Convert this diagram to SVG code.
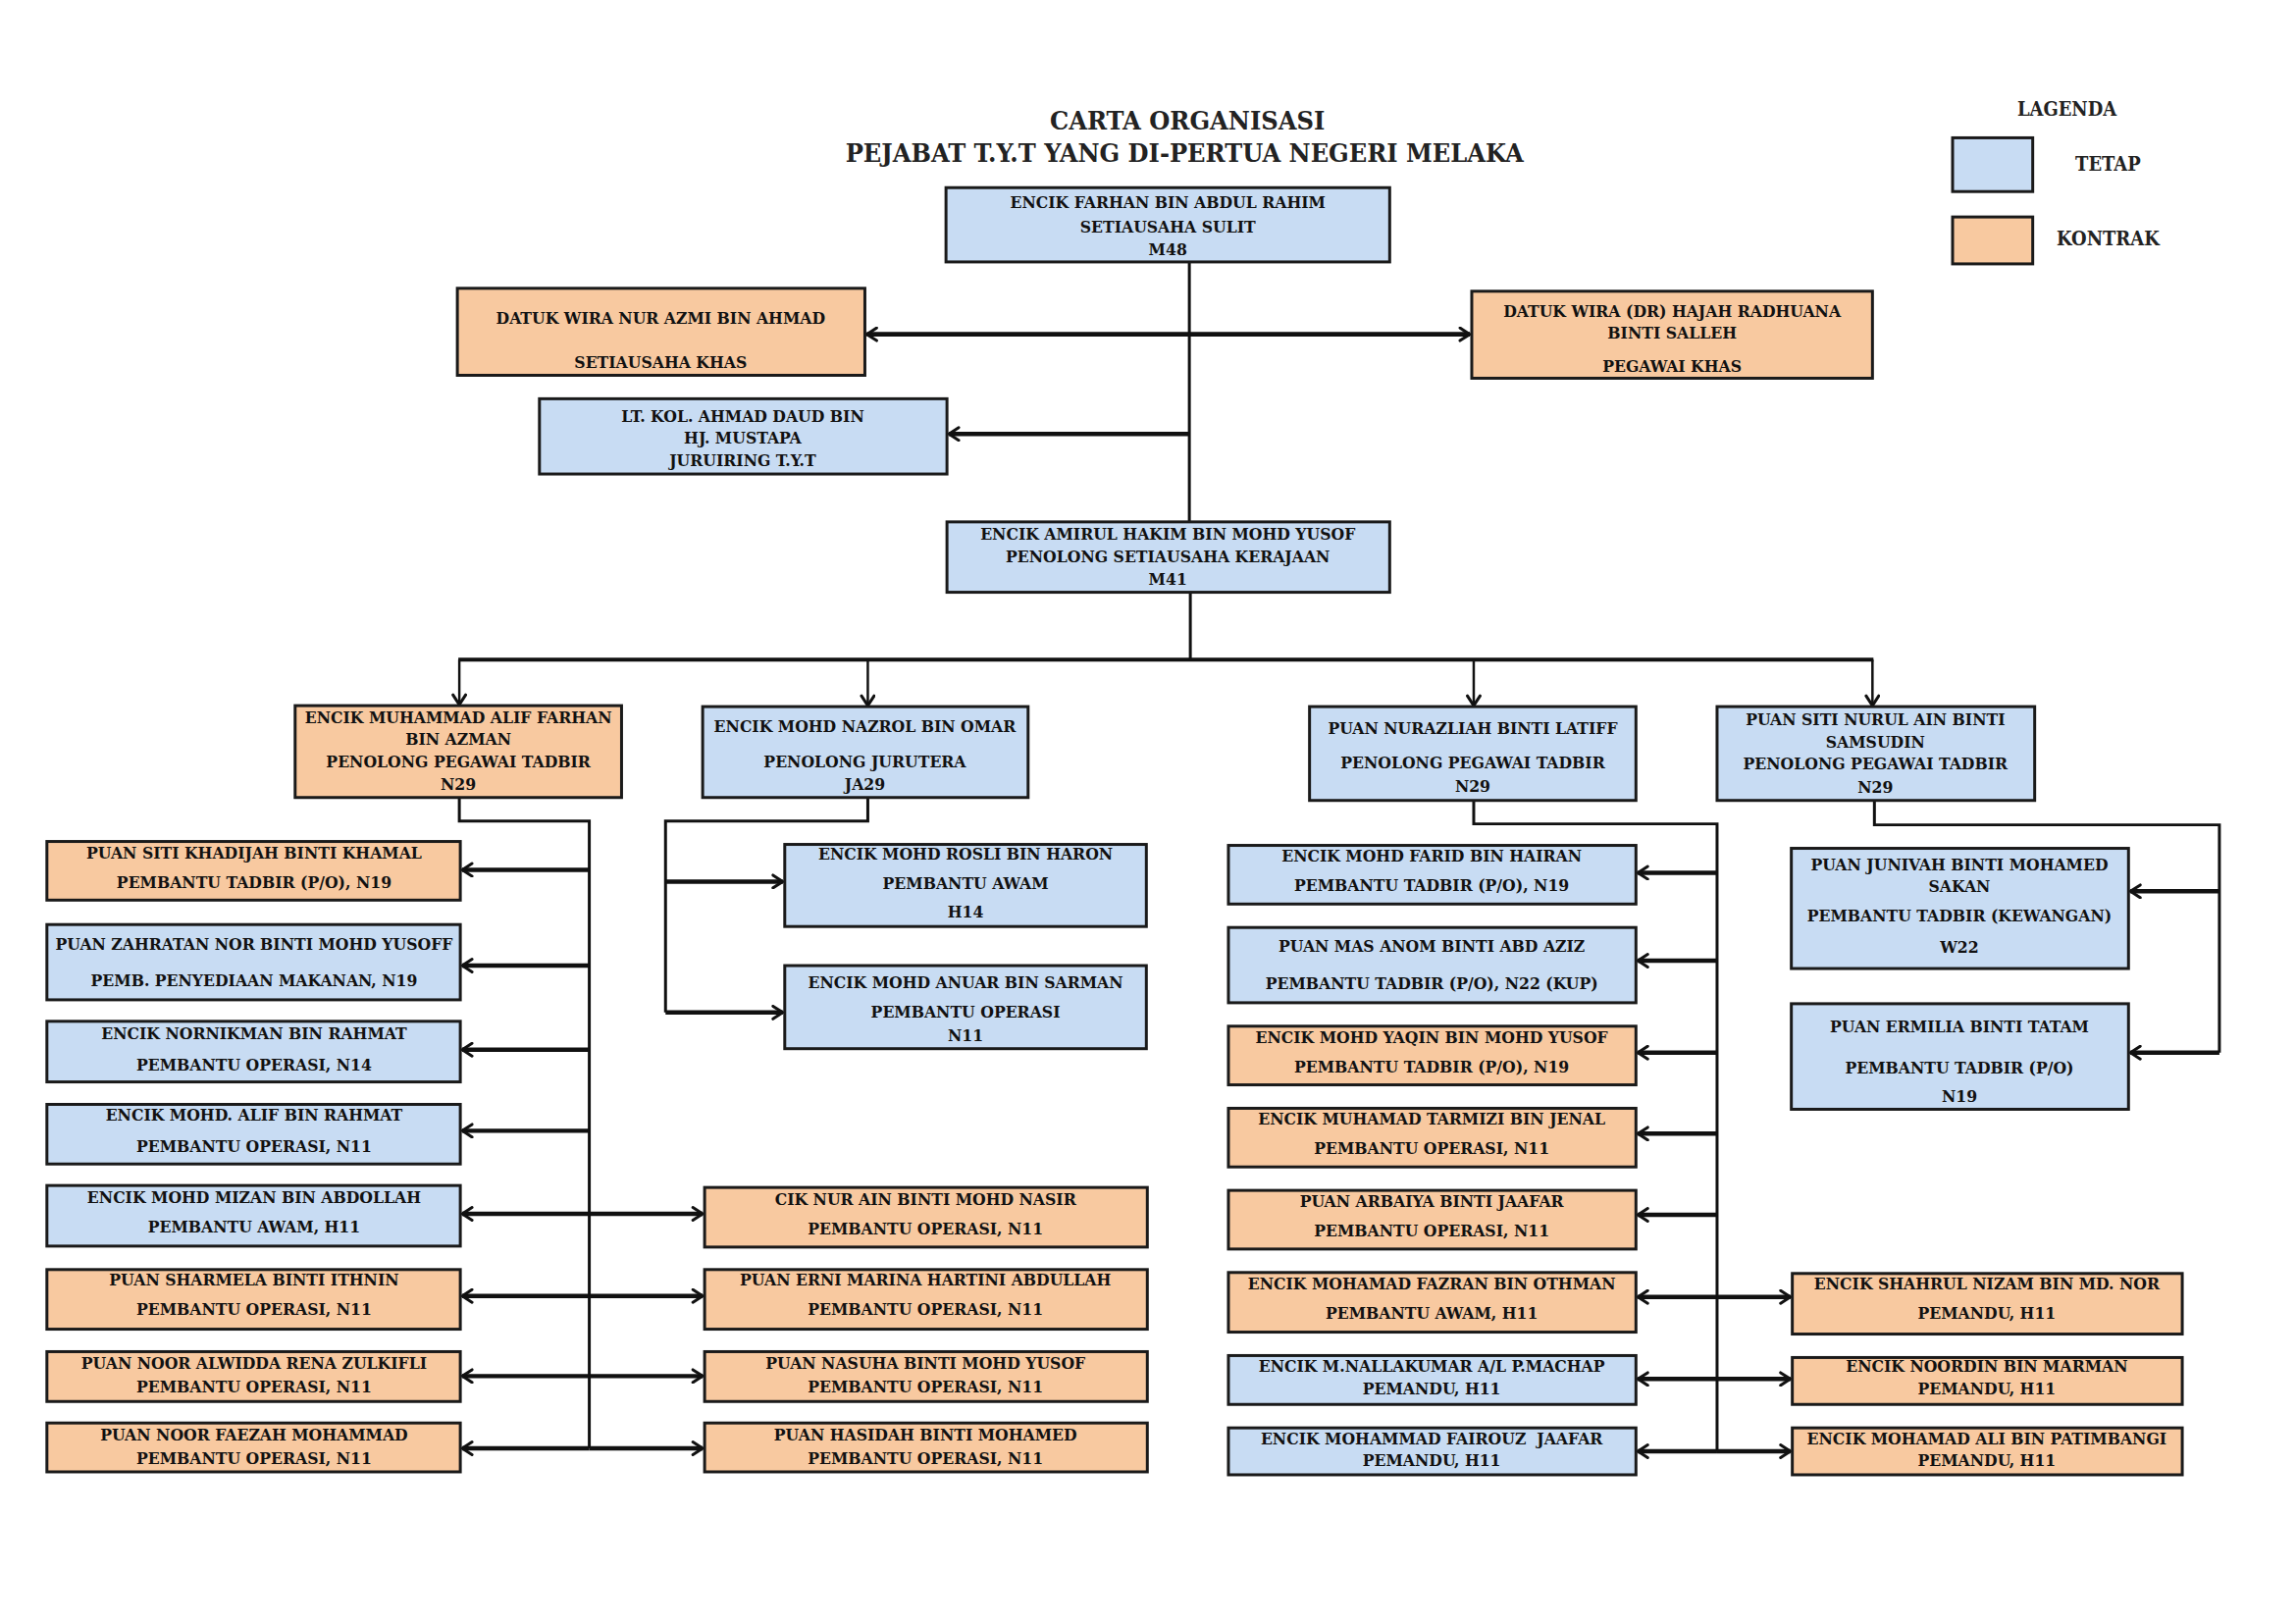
<svg xmlns="http://www.w3.org/2000/svg" width="2340" height="1654" viewBox="0 0 2340 1654">
<style>
.b{fill:#c8dcf3;stroke:#1a1a1a;stroke-width:3}
.o{fill:#f8c9a0;stroke:#1a1a1a;stroke-width:3}
.t{font-family:"DejaVu Serif Condensed","DejaVu Serif",serif;font-weight:bold;font-size:17.5px;fill:#111;text-anchor:middle;dominant-baseline:central}
.h{font-family:"DejaVu Serif Condensed","DejaVu Serif",serif;font-weight:bold;font-size:27px;fill:#222;text-anchor:middle;dominant-baseline:central}
.l{font-family:"DejaVu Serif Condensed","DejaVu Serif",serif;font-weight:bold;font-size:20px;fill:#222;text-anchor:middle;dominant-baseline:central}
.c{fill:none;stroke:#111;stroke-width:3}
.a{fill:none;stroke:#111;stroke-width:4.5;marker-end:url(#ah)}
.d{fill:none;stroke:#111;stroke-width:2.5;marker-end:url(#ah)}
</style>
<defs>
<marker id="ah" viewBox="0 0 16 16" refX="13" refY="8" markerWidth="16" markerHeight="16" markerUnits="userSpaceOnUse" orient="auto-start-reverse">
<path d="M3,1.5 L13,8 L3,14.5" fill="none" stroke="#111" stroke-width="3" stroke-linecap="round" stroke-linejoin="round"/>
</marker>
</defs>
<rect width="2340" height="1654" fill="#fff"/>
<g transform="scale(0.996)">
<g id="title">
<text class="h" x="1215" y="123">CARTA ORGANISASI</text>
<text class="h" x="1212" y="156">PEJABAT T.Y.T YANG DI-PERTUA NEGERI MELAKA</text>
</g>
<g id="legend">
<text class="l" x="2115" y="111">LAGENDA</text>
<rect class="b" x="1998" y="141" width="82" height="55"/>
<text class="l" x="2157" y="168">TETAP</text>
<rect class="o" x="1998" y="222" width="82" height="48"/>
<text class="l" x="2157" y="244">KONTRAK</text>
</g>
<g id="connectors">
<line class="c" x1="1217" y1="268" x2="1217" y2="534"/>
<line x1="887" y1="342" x2="1504" y2="342" stroke="#111" stroke-width="5" marker-start="url(#ah)" marker-end="url(#ah)"/>
<line class="a" x1="1217" y1="444" x2="971" y2="444"/>
<line class="c" x1="1218" y1="606" x2="1218" y2="675"/>
<line x1="469" y1="675" x2="1917" y2="675" stroke="#111" stroke-width="4"/>
<line class="d" x1="470" y1="675" x2="470" y2="721"/>
<line class="d" x1="888" y1="675" x2="888" y2="722"/>
<line class="d" x1="1508" y1="675" x2="1508" y2="722"/>
<line class="d" x1="1916" y1="675" x2="1916" y2="722"/>
<polyline class="c" points="470,816 470,840 603,840 603,1482"/>
<line class="a" x1="603" y1="890" x2="473" y2="890"/>
<line class="a" x1="603" y1="988" x2="473" y2="988"/>
<line class="a" x1="603" y1="1074" x2="473" y2="1074"/>
<line class="a" x1="603" y1="1157" x2="473" y2="1157"/>
<line class="a" x1="603" y1="1242" x2="473" y2="1242"/>
<line class="a" x1="603" y1="1326" x2="473" y2="1326"/>
<line class="a" x1="603" y1="1408" x2="473" y2="1408"/>
<line class="a" x1="603" y1="1482" x2="473" y2="1482"/>
<line class="a" x1="603" y1="1242" x2="719" y2="1242"/>
<line class="a" x1="603" y1="1326" x2="719" y2="1326"/>
<line class="a" x1="603" y1="1408" x2="719" y2="1408"/>
<line class="a" x1="603" y1="1482" x2="719" y2="1482"/>
<polyline class="c" points="888,816 888,840 681,840 681,1036"/>
<line class="a" x1="681" y1="902" x2="801" y2="902"/>
<line class="a" x1="681" y1="1036" x2="801" y2="1036"/>
<polyline class="c" points="1508,819 1508,843 1757,843 1757,1485"/>
<line class="a" x1="1757" y1="893" x2="1676" y2="893"/>
<line class="a" x1="1757" y1="983" x2="1676" y2="983"/>
<line class="a" x1="1757" y1="1077" x2="1676" y2="1077"/>
<line class="a" x1="1757" y1="1160" x2="1676" y2="1160"/>
<line class="a" x1="1757" y1="1243" x2="1676" y2="1243"/>
<line class="a" x1="1757" y1="1327" x2="1676" y2="1327"/>
<line class="a" x1="1757" y1="1411" x2="1676" y2="1411"/>
<line class="a" x1="1757" y1="1485" x2="1676" y2="1485"/>
<line class="a" x1="1757" y1="1327" x2="1832" y2="1327"/>
<line class="a" x1="1757" y1="1411" x2="1832" y2="1411"/>
<line class="a" x1="1757" y1="1485" x2="1832" y2="1485"/>
<polyline class="c" points="1918,819 1918,844 2271,844 2271,1077"/>
<line class="a" x1="2271" y1="912" x2="2180" y2="912"/>
<line class="a" x1="2271" y1="1077" x2="2180" y2="1077"/>
</g>
<g id="n_farhan"><rect class="b" x="968" y="192" width="454" height="76"/>
<text class="t" x="1195" y="207">ENCIK FARHAN BIN ABDUL RAHIM</text><text class="t" x="1195" y="232">SETIAUSAHA SULIT</text><text class="t" x="1195" y="255">M48</text></g>
<g id="n_azmi"><rect class="o" x="468" y="295" width="417" height="89"/>
<text class="t" x="676" y="325">DATUK WIRA NUR AZMI BIN AHMAD</text><text class="t" x="676" y="370">SETIAUSAHA KHAS</text></g>
<g id="n_radhuana"><rect class="o" x="1506" y="298" width="410" height="89"/>
<text class="t" x="1711" y="318">DATUK WIRA (DR) HAJAH RADHUANA</text><text class="t" x="1711" y="340">BINTI SALLEH</text><text class="t" x="1711" y="375">PEGAWAI KHAS</text></g>
<g id="n_daud"><rect class="b" x="552" y="408" width="417" height="77"/>
<text class="t" x="760" y="426">LT. KOL. AHMAD DAUD BIN</text><text class="t" x="760" y="448">HJ. MUSTAPA</text><text class="t" x="760" y="471">JURUIRING T.Y.T</text></g>
<g id="n_amirul"><rect class="b" x="969" y="534" width="453" height="72"/>
<text class="t" x="1195" y="546">ENCIK AMIRUL HAKIM BIN MOHD YUSOF</text><text class="t" x="1195" y="569">PENOLONG SETIAUSAHA KERAJAAN</text><text class="t" x="1195" y="592">M41</text></g>
<g id="n_alif"><rect class="o" x="302" y="722" width="334" height="94"/>
<text class="t" x="469" y="734">ENCIK MUHAMMAD ALIF FARHAN</text><text class="t" x="469" y="756">BIN AZMAN</text><text class="t" x="469" y="779">PENOLONG PEGAWAI TADBIR</text><text class="t" x="469" y="802">N29</text></g>
<g id="n_nazrol"><rect class="b" x="719" y="723" width="333" height="93"/>
<text class="t" x="885" y="743">ENCIK MOHD NAZROL BIN OMAR</text><text class="t" x="885" y="779">PENOLONG JURUTERA</text><text class="t" x="885" y="802">JA29</text></g>
<g id="n_nurazliah"><rect class="b" x="1340" y="723" width="334" height="96"/>
<text class="t" x="1507" y="745">PUAN NURAZLIAH BINTI LATIFF</text><text class="t" x="1507" y="780">PENOLONG PEGAWAI TADBIR</text><text class="t" x="1507" y="804">N29</text></g>
<g id="n_sitinurul"><rect class="b" x="1757" y="723" width="325" height="96"/>
<text class="t" x="1919" y="736">PUAN SITI NURUL AIN BINTI</text><text class="t" x="1919" y="759">SAMSUDIN</text><text class="t" x="1919" y="781">PENOLONG PEGAWAI TADBIR</text><text class="t" x="1919" y="805">N29</text></g>
<g id="n_khadijah"><rect class="o" x="48" y="861" width="423" height="60"/>
<text class="t" x="260" y="873">PUAN SITI KHADIJAH BINTI KHAMAL</text><text class="t" x="260" y="903">PEMBANTU TADBIR (P/O), N19</text></g>
<g id="n_zahratan"><rect class="b" x="48" y="946" width="423" height="77"/>
<text class="t" x="260" y="966">PUAN ZAHRATAN NOR BINTI MOHD YUSOFF</text><text class="t" x="260" y="1003">PEMB. PENYEDIAAN MAKANAN, N19</text></g>
<g id="n_nornikman"><rect class="b" x="48" y="1045" width="423" height="62"/>
<text class="t" x="260" y="1057">ENCIK NORNIKMAN BIN RAHMAT</text><text class="t" x="260" y="1089">PEMBANTU OPERASI, N14</text></g>
<g id="n_alifrahmat"><rect class="b" x="48" y="1130" width="423" height="61"/>
<text class="t" x="260" y="1141">ENCIK MOHD. ALIF BIN RAHMAT</text><text class="t" x="260" y="1173">PEMBANTU OPERASI, N11</text></g>
<g id="n_mizan"><rect class="b" x="48" y="1213" width="423" height="62"/>
<text class="t" x="260" y="1225">ENCIK MOHD MIZAN BIN ABDOLLAH</text><text class="t" x="260" y="1255">PEMBANTU AWAM, H11</text></g>
<g id="n_sharmela"><rect class="o" x="48" y="1299" width="423" height="61"/>
<text class="t" x="260" y="1309">PUAN SHARMELA BINTI ITHNIN</text><text class="t" x="260" y="1339">PEMBANTU OPERASI, N11</text></g>
<g id="n_alwidda"><rect class="o" x="48" y="1383" width="423" height="51"/>
<text class="t" x="260" y="1395">PUAN NOOR ALWIDDA RENA ZULKIFLI</text><text class="t" x="260" y="1419">PEMBANTU OPERASI, N11</text></g>
<g id="n_faezah"><rect class="o" x="48" y="1456" width="423" height="50"/>
<text class="t" x="260" y="1468">PUAN NOOR FAEZAH MOHAMMAD</text><text class="t" x="260" y="1492">PEMBANTU OPERASI, N11</text></g>
<g id="n_nurain"><rect class="o" x="721" y="1215" width="453" height="61"/>
<text class="t" x="947" y="1227">CIK NUR AIN BINTI MOHD NASIR</text><text class="t" x="947" y="1257">PEMBANTU OPERASI, N11</text></g>
<g id="n_erni"><rect class="o" x="721" y="1299" width="453" height="61"/>
<text class="t" x="947" y="1309">PUAN ERNI MARINA HARTINI ABDULLAH</text><text class="t" x="947" y="1339">PEMBANTU OPERASI, N11</text></g>
<g id="n_nasuha"><rect class="o" x="721" y="1383" width="453" height="51"/>
<text class="t" x="947" y="1395">PUAN NASUHA BINTI MOHD YUSOF</text><text class="t" x="947" y="1419">PEMBANTU OPERASI, N11</text></g>
<g id="n_hasidah"><rect class="o" x="721" y="1456" width="453" height="50"/>
<text class="t" x="947" y="1468">PUAN HASIDAH BINTI MOHAMED</text><text class="t" x="947" y="1492">PEMBANTU OPERASI, N11</text></g>
<g id="n_rosli"><rect class="b" x="803" y="864" width="370" height="84"/>
<text class="t" x="988" y="874">ENCIK MOHD ROSLI BIN HARON</text><text class="t" x="988" y="904">PEMBANTU AWAM</text><text class="t" x="988" y="933">H14</text></g>
<g id="n_anuar"><rect class="b" x="803" y="988" width="370" height="85"/>
<text class="t" x="988" y="1005">ENCIK MOHD ANUAR BIN SARMAN</text><text class="t" x="988" y="1035">PEMBANTU OPERASI</text><text class="t" x="988" y="1059">N11</text></g>
<g id="n_farid"><rect class="b" x="1257" y="865" width="417" height="60"/>
<text class="t" x="1465" y="876">ENCIK MOHD FARID BIN HAIRAN</text><text class="t" x="1465" y="906">PEMBANTU TADBIR (P/O), N19</text></g>
<g id="n_masanom"><rect class="b" x="1257" y="949" width="417" height="77"/>
<text class="t" x="1465" y="968">PUAN MAS ANOM BINTI ABD AZIZ</text><text class="t" x="1465" y="1006">PEMBANTU TADBIR (P/O), N22 (KUP)</text></g>
<g id="n_yaqin"><rect class="o" x="1257" y="1050" width="417" height="60"/>
<text class="t" x="1465" y="1061">ENCIK MOHD YAQIN BIN MOHD YUSOF</text><text class="t" x="1465" y="1091">PEMBANTU TADBIR (P/O), N19</text></g>
<g id="n_tarmizi"><rect class="o" x="1257" y="1134" width="417" height="60"/>
<text class="t" x="1465" y="1145">ENCIK MUHAMAD TARMIZI BIN JENAL</text><text class="t" x="1465" y="1175">PEMBANTU OPERASI, N11</text></g>
<g id="n_arbaiya"><rect class="o" x="1257" y="1218" width="417" height="60"/>
<text class="t" x="1465" y="1229">PUAN ARBAIYA BINTI JAAFAR</text><text class="t" x="1465" y="1259">PEMBANTU OPERASI, N11</text></g>
<g id="n_fazran"><rect class="o" x="1257" y="1302" width="417" height="61"/>
<text class="t" x="1465" y="1313">ENCIK MOHAMAD FAZRAN BIN OTHMAN</text><text class="t" x="1465" y="1343">PEMBANTU AWAM, H11</text></g>
<g id="n_nallakumar"><rect class="b" x="1257" y="1387" width="417" height="50"/>
<text class="t" x="1465" y="1398">ENCIK M.NALLAKUMAR A/L P.MACHAP</text><text class="t" x="1465" y="1421">PEMANDU, H11</text></g>
<g id="n_fairouz"><rect class="b" x="1257" y="1461" width="417" height="48"/>
<text class="t" x="1465" y="1472" xml:space="preserve">ENCIK MOHAMMAD FAIROUZ  JAAFAR</text><text class="t" x="1465" y="1494">PEMANDU, H11</text></g>
<g id="n_shahrul"><rect class="o" x="1834" y="1303" width="399" height="62"/>
<text class="t" x="2033" y="1313">ENCIK SHAHRUL NIZAM BIN MD. NOR</text><text class="t" x="2033" y="1343">PEMANDU, H11</text></g>
<g id="n_noordin"><rect class="o" x="1834" y="1389" width="399" height="48"/>
<text class="t" x="2033" y="1398">ENCIK NOORDIN BIN MARMAN</text><text class="t" x="2033" y="1421">PEMANDU, H11</text></g>
<g id="n_ali"><rect class="o" x="1834" y="1461" width="399" height="48"/>
<text class="t" x="2033" y="1472">ENCIK MOHAMAD ALI BIN PATIMBANGI</text><text class="t" x="2033" y="1494">PEMANDU, H11</text></g>
<g id="n_junivah"><rect class="b" x="1833" y="868" width="345" height="123"/>
<text class="t" x="2005" y="885">PUAN JUNIVAH BINTI MOHAMED</text><text class="t" x="2005" y="907">SAKAN</text><text class="t" x="2005" y="937">PEMBANTU TADBIR (KEWANGAN)</text><text class="t" x="2005" y="969">W22</text></g>
<g id="n_ermilia"><rect class="b" x="1833" y="1027" width="345" height="108"/>
<text class="t" x="2005" y="1050">PUAN ERMILIA BINTI TATAM</text><text class="t" x="2005" y="1092">PEMBANTU TADBIR (P/O)</text><text class="t" x="2005" y="1122">N19</text></g>
</g>
</svg>
